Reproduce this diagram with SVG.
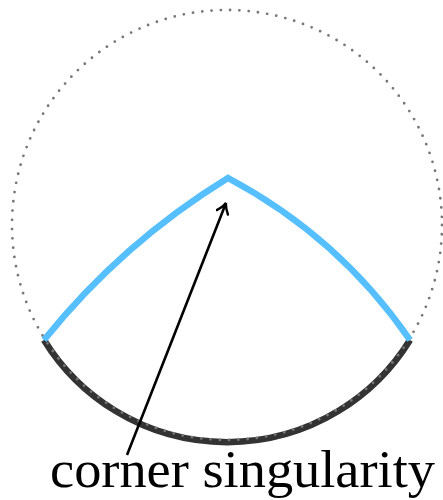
<svg xmlns="http://www.w3.org/2000/svg" width="443" height="500" viewBox="0 0 443 500">
<style>
.dots{fill:none;stroke:#777777;stroke-width:2.8;stroke-linecap:round;stroke-dasharray:0 9.32}
.base{fill:none;stroke:#333333;stroke-width:6.5}
.blue{fill:none;stroke:#55bfff;stroke-width:6.5;stroke-linejoin:miter}
.arrow{fill:none;stroke:#000;stroke-width:2.6}
.label{font-family:"Liberation Serif","DejaVu Serif",serif;font-size:52px;fill:#000}
</style>
<defs>
<marker id="ah" viewBox="-12 -7 14 14" refX="0" refY="0" markerWidth="14" markerHeight="14" markerUnits="userSpaceOnUse" orient="auto">
<path d="M-10,-6 Q-4,-1 0,0 Q-4,1 -10,6" fill="none" stroke="#000" stroke-width="2.4" stroke-linecap="round"/>
</marker>
</defs>
<g id="boundary">
<path class="base" d="M44,340 A215,215 0 0 0 410,340"/>
</g>
<g id="circle">
<circle class="dots" cx="227" cy="225" r="215"/>
</g>
<g id="corner">
<path class="blue" d="M44,340 Q122,243 228,178 Q339,237 410,340"/>
</g>
<g id="connectors">
<line class="arrow" x1="127" y1="455" x2="226" y2="203" marker-end="url(#ah)"/>
</g>
<g id="label">
<text class="label" x="50" y="487" textLength="385" lengthAdjust="spacingAndGlyphs">corner singularity</text>
</g>
</svg>
